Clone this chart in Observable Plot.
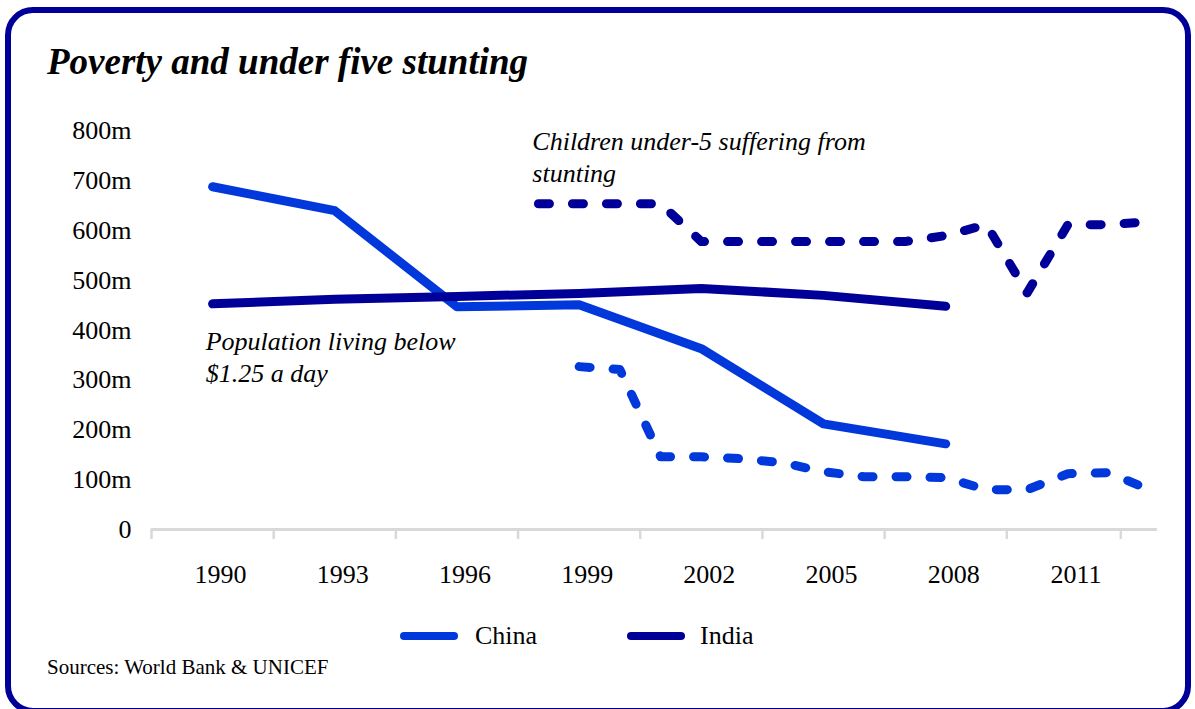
<!DOCTYPE html>
<html><head><meta charset="utf-8">
<script src="https://cdn.jsdelivr.net/npm/d3@7"></script>
<script src="https://cdn.jsdelivr.net/npm/@observablehq/plot@0.6"></script>
<style>
body{margin:0;background:#fff;font-family:"Liberation Serif","Times New Roman",serif;width:1195px;height:709px;overflow:hidden;position:relative;}
#frame{position:absolute;left:5px;top:7px;width:1186px;height:707px;box-sizing:border-box;border:6px solid #000099;border-radius:28px;}
#title{position:absolute;left:47px;top:43px;font-size:37px;line-height:1;font-weight:bold;font-style:italic;color:#000;white-space:nowrap;}
#chart{position:absolute;left:0;top:100px;}
.sw{position:absolute;height:8px;border-radius:4px;width:58px;}
.lt{position:absolute;font-size:26px;line-height:1;color:#000;}
#source{position:absolute;left:47px;top:657px;font-size:21px;line-height:1;color:#000;white-space:nowrap;}
</style></head>
<body>
<div id="frame"></div>
<div id="title">Poverty and under five stunting</div>
<div id="chart"></div>
<div id="legend"></div>
<div id="source">Sources: World Bank &amp; UNICEF</div>
<script>
// ---- data ----
const seriesNames = ["China", "India"];
const seriesColors = ["#0038DC", "#000099"];

const povertyYears = [1990, 1993, 1996, 1999, 2002, 2005, 2008];
const chinaPoverty = [688, 640, 447, 451, 363, 212, 172];
const indiaPoverty = [453, 462, 468, 474, 484, 470, 448];

const chinaStuntYears = [1999, 2000, 2001, 2002, 2003, 2004, 2005, 2006, 2007, 2008, 2009, 2010, 2011, 2012, 2013];
const chinaStunting   = [327, 321, 146, 146, 142, 134, 116, 106, 106, 104, 80, 80, 112, 114, 80];

const indiaStuntYears = [1998, 1999, 2000, 2001, 2002, 2003, 2004, 2005, 2006, 2007, 2008, 2009, 2010, 2011, 2012, 2013];
const indiaStunting   = [654, 654, 654, 654, 578, 578, 578, 578, 578, 578, 590, 612, 475, 612, 612, 618];

const xLabels = [1990, 1993, 1996, 1999, 2002, 2005, 2008, 2011];
const xTickMarks = [1988.5, 1991.5, 1994.5, 1997.5, 2000.5, 2003.5, 2006.5, 2009.5, 2012.3];
const yTicks = [0, 100, 200, 300, 400, 500, 600, 700, 800];

const annotations = [
  {x: 1997.85, y: 751, text: "Children under-5 suffering from\nstunting"},
  {x: 1989.83, y: 348, text: "Population living below\n$1.25 a day"}
];

// ---- tables ----
const toRows = (xs, ys, series, kind) => xs.map((x, i) => ({year: x, value: ys[i], series, kind}));
const poverty = [
  ...toRows(povertyYears, chinaPoverty, "China", "poverty"),
  ...toRows(povertyYears, indiaPoverty, "India", "poverty")
];
const stunting = [
  ...toRows(chinaStuntYears, chinaStunting, "China", "stunting"),
  ...toRows(indiaStuntYears, indiaStunting, "India", "stunting")
];

const font = "'Liberation Serif','Times New Roman',serif";

const chart = Plot.plot({
  width: 1195,
  height: 500,
  marginLeft: 151,
  marginRight: 38,
  marginTop: 30.5,
  marginBottom: 71,
  style: {fontFamily: font, background: "transparent", overflow: "visible"},
  x: {domain: [1988.5, 2013.2], axis: null},
  y: {domain: [0, 800], axis: null},
  color: {domain: seriesNames, range: seriesColors},
  marks: [
    Plot.ruleY([0], {stroke: "#d9d9d9", strokeWidth: 3}),
    Plot.axisX({ticks: xTickMarks, tickSize: 10, tickFormat: () => "", stroke: "#d9d9d9", strokeWidth: 2.5, label: null}),
    Plot.axisX({ticks: xLabels, tickSize: 0, tickPadding: 35, tickFormat: d => String(d), fontSize: 26, dx: 8, label: null, fill: "#000"}),
    Plot.axisY({ticks: yTicks, tickSize: 0, tickPadding: 20, tickFormat: d => d === 0 ? "0" : d + "m", fontSize: 26, label: null, fill: "#000"}),
    Plot.line(stunting, {x: "year", y: "value", z: "series", stroke: "series", strokeWidth: 9,
      strokeDasharray: "11 23", strokeLinecap: "round", strokeLinejoin: "round"}),
    Plot.line(poverty, {x: "year", y: "value", z: "series", stroke: "series", strokeWidth: 9,
      strokeLinecap: "round", strokeLinejoin: "round"}),
    Plot.text(annotations, {x: "x", y: "y", text: "text", textAnchor: "start", lineAnchor: "middle",
      fontSize: 26, fontStyle: "italic", lineHeight: 1.23, fill: "#000"})
  ]
});
document.getElementById("chart").appendChild(chart);

// ---- legend ----
const legend = document.getElementById("legend");
const swatchLeft = [400, 627];
const textLeft = [475, 700];
seriesNames.forEach((name, i) => {
  const sw = document.createElement("div");
  sw.className = "sw";
  sw.style.left = swatchLeft[i] + "px";
  sw.style.top = "632px";
  sw.style.background = seriesColors[i];
  legend.appendChild(sw);
  const t = document.createElement("div");
  t.className = "lt";
  t.style.left = textLeft[i] + "px";
  t.style.top = "623px";
  t.textContent = name;
  legend.appendChild(t);
});
</script>
</body></html>
